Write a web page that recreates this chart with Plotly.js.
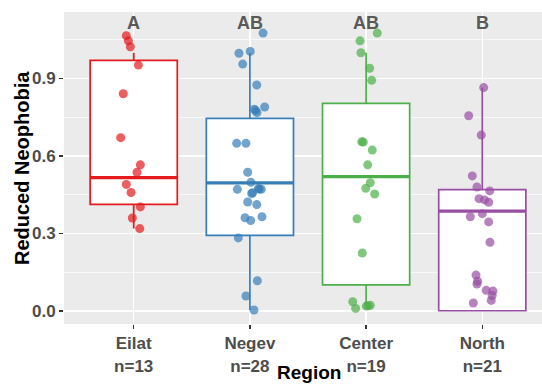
<!DOCTYPE html>
<html>
<head>
<meta charset="utf-8">
<script src="https://cdn.plot.ly/plotly-3.0.1.min.js"></script>
<style>
html,body{margin:0;padding:0;overflow:hidden;background:#fff;}
#chart{width:552px;height:386px;}
</style>
</head>
<body>
<div id="chart"></div>
<script>
// ---- data ----
const regions = ["Eilat", "Negev", "Center", "North"];
const counts = [13, 28, 19, 21];
const letters = ["A", "AB", "AB", "B"];
const colors = ["#E41A1C", "#377EB8", "#4DAF4A", "#984EA3"];

// box statistics
const q1 = [0.413, 0.293, 0.101, 0.001];
const medians = [0.516, 0.496, 0.520, 0.387];
const q3 = [0.970, 0.746, 0.804, 0.470];
const lowerWhisker = [0.319, 0.004, 0.023, 0.001];
const upperWhisker = [1.000, 1.000, 1.000, 0.865];

// jittered observations (values and horizontal jitter offsets)
const eilatY = [1.066, 1.046, 1.023, 0.952, 0.841, 0.671, 0.566, 0.537, 0.490, 0.459, 0.403, 0.360, 0.319];
const eilatJit = [-0.064, -0.046, -0.029, 0.040, -0.090, -0.112, 0.057, 0.028, -0.064, -0.023, 0.057, -0.012, 0.052];

const negevY = [1.076, 0.998, 1.005, 0.956, 0.875, 0.790, 0.781, 0.768, 0.649, 0.649, 0.537, 0.498, 0.471, 0.458,
  0.474, 0.471, 0.422, 0.412, 0.361, 0.350, 0.365, 0.283, 0.117, 0.058, 0.004, 0.472, 0.455, 0.776];
const negevJit = [0.113, -0.094, 0.003, -0.062, 0.059, 0.127, 0.038, 0.061, -0.114, -0.034, -0.019, 0.009, -0.108, 0.024,
  0.072, 0.098, -0.019, 0.059, -0.042, 0.007, 0.104, -0.100, 0.064, -0.034, 0.035, 0.080, 0.015, 0.050];

const centerY = [1.076, 1.046, 1.000, 0.940, 0.893, 0.655, 0.654, 0.623, 0.566, 0.497, 0.475, 0.453, 0.357, 0.2245,
  0.036, 0.010, 0.019, 0.022, 0.020];
const centerJit = [0.096, -0.052, -0.044, 0.031, 0.048, -0.038, -0.024, 0.053, 0.014, 0.036, -0.003, 0.074, -0.078, -0.033,
  -0.115, -0.090, 0.002, 0.036, 0.016];

const northY = [0.865, 0.756, 0.681, 0.523, 0.480, 0.465, 0.435, 0.421, 0.365, 0.377, 0.345, 0.266, 0.139, 0.1045,
  0.080, 0.077, 0.041, 0.031, 0.430, 0.060, 0.115];
const northJit = [0.012, -0.117, -0.009, -0.086, -0.046, 0.064, -0.028, 0.055, -0.103, 0.000, 0.055, 0.066, -0.054, -0.046,
  0.034, 0.092, 0.077, -0.077, 0.020, 0.085, -0.040];

const yTickVals = [0.0, 0.3, 0.6, 0.9];
const yTickText = ["0.0", "0.3", "0.6", "0.9"];
const xTitle = "Region";
const yTitle = "Reduced Neophobia";

// ---- build traces ----
const pointsY = [eilatY, negevY, centerY, northY];
const pointsJit = [eilatJit, negevJit, centerJit, northJit];
const boxWidth = 0.75;
const FONT = "Liberation Sans, Arial, sans-serif";

const traces = [];
regions.forEach((r, i) => {
  traces.push({
    type: "box",
    x: [i],
    q1: [q1[i]],
    median: [medians[i]],
    q3: [q3[i]],
    lowerfence: [lowerWhisker[i]],
    upperfence: [upperWhisker[i]],
    width: boxWidth,
    whiskerwidth: 0,
    fillcolor: "#FFFFFF",
    line: {color: colors[i], width: 1.7},
    boxpoints: false,
    hoverinfo: "skip",
    showlegend: false
  });
});
regions.forEach((r, i) => {
  traces.push({
    type: "scatter",
    mode: "lines",
    x: [i - boxWidth / 2, i + boxWidth / 2],
    y: [medians[i], medians[i]],
    line: {color: colors[i], width: 3.2},
    hoverinfo: "skip",
    showlegend: false
  });
});
regions.forEach((r, i) => {
  traces.push({
    type: "scatter",
    mode: "markers",
    x: pointsJit[i].map(d => i + d),
    y: pointsY[i],
    marker: {color: colors[i], size: 9, opacity: 0.7, line: {width: 0}},
    hoverinfo: "skip",
    showlegend: false
  });
});

const annotations = letters.map((l, i) => ({
  x: i, y: 1.114, xref: "x", yref: "y",
  text: l, showarrow: false,
  font: {family: FONT, size: 18, color: "#595959", weight: "bold"}
}));
annotations.push({
  x: 0.502, y: -0.157, xref: "paper", yref: "paper",
  xanchor: "center", yanchor: "middle",
  text: xTitle, showarrow: false, borderpad: 0,
  font: {family: FONT, size: 19, color: "#000000", weight: "bold"}
});
annotations.push({
  x: -0.086, y: 0.5, xref: "paper", yref: "paper",
  xanchor: "center", yanchor: "middle", textangle: -90,
  text: yTitle, showarrow: false,
  font: {family: FONT, size: 20, color: "#000000", weight: "bold"}
});

const layout = {
  width: 552, height: 386,
  margin: {l: 64, r: 0, t: 12, b: 62},
  paper_bgcolor: "#FFFFFF",
  plot_bgcolor: "#EBEBEB",
  showlegend: false,
  xaxis: {
    range: [-0.6, 3.6],
    tickvals: regions.map((r, i) => i),
    ticktext: regions.map((r, i) => r + "<br>n=" + counts[i]),
    showgrid: true, gridcolor: "#FFFFFF", gridwidth: 1.5,
    zeroline: false, showline: false,
    ticks: "outside", ticklen: 4, tickwidth: 1.3, tickcolor: "#333333",
    tickfont: {family: FONT, size: 17, color: "#4D4D4D", weight: "bold"}
  },
  yaxis: {
    range: [-0.0503, 1.1576],
    tickvals: yTickVals,
    ticktext: yTickText,
    showgrid: true, gridcolor: "#FFFFFF", gridwidth: 1.5,
    minor: {tickvals: [0.15, 0.45, 0.75, 1.05], showgrid: true, gridcolor: "#FFFFFF", gridwidth: 0.7, ticks: ""},
    zeroline: false, showline: false,
    ticks: "outside", ticklen: 4, tickwidth: 1.3, tickcolor: "#333333",
    tickfont: {family: FONT, size: 17, color: "#4D4D4D", weight: "bold"}
  },
  annotations: annotations
};

Plotly.newPlot("chart", traces, layout, {staticPlot: true, displayModeBar: false});
</script>
</body>
</html>
